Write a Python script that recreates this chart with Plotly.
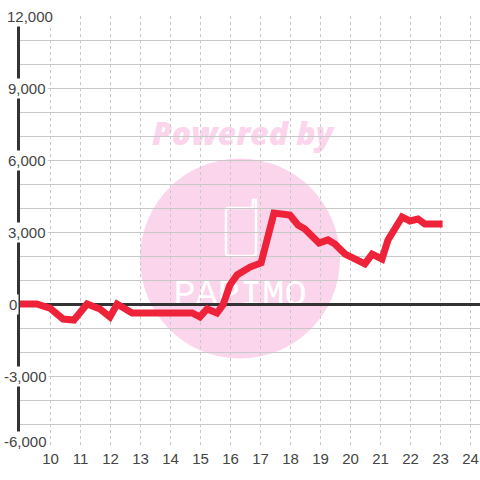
import plotly.graph_objects as go

hours = [8.9, 9.54, 9.98, 10.42, 10.78, 11.22, 11.65, 11.98, 12.22, 12.72, 14.72, 14.98, 15.22, 15.55, 15.75,
         15.98, 16.22, 16.32, 16.65, 17.02, 17.22, 17.45, 17.98, 18.25, 18.48, 18.75, 18.95, 19.25, 19.48, 19.82,
         20.05, 20.48, 20.72, 21.05, 21.25, 21.72, 21.98, 22.25, 22.48, 23.07]
values = [0, 0, -170, -625, -667, 0, -208, -540, 0, -375, -375, -540, -208, -375, -40,
          790, 1210, 1290, 1540, 1710, 2790, 3790, 3710, 3290, 3125, 2750, 2540, 2670, 2500, 2080,
          1920, 1670, 2080, 1875, 2670, 3625, 3460, 3540, 3330, 3330]

x_ticks = list(range(10, 25))
y_grid = list(range(-6000, 12001, 1000))
y_labels = ["12,000", "9,000", "6,000", "3,000", "0", "-3,000", "-6,000"]
y_label_values = [12000, 9000, 6000, 3000, 0, -3000, -6000]
y_label_left_px = [5, 6, 6, 6, 7, 2, 2]
y_label_shift = [0, 0, 0, 0, 0, 0, 7]

W, H = 480, 480
L, R, T, B = 20, 0, 16, 32
PW, PH = W - L - R, H - T - B
def px(x): return (x - L) / PW
def py(y): return 1 - (y - T) / PH

PINK = "#fbd5ec"
INK = "#444444"
DARK = "#333333"
GRID = "#c8c8c8"

fig = go.Figure(go.Scatter(x=hours, y=values, mode="lines", cliponaxis=False,
                           line=dict(color="#ee2238", width=7), hoverinfo="skip"))

shapes = [
    dict(type="circle", xref="paper", yref="paper", layer="below",
         x0=px(140), x1=px(340), y0=py(358.5), y1=py(158.5), fillcolor=PINK, line_width=0),
    dict(type="path", xref="paper", yref="paper", layer="below", line=dict(color="white", width=2.5),
         path=f"M {px(252)} {py(208)} L {px(229)} {py(208)} Q {px(226)} {py(208)} {px(226)} {py(211)} "
              f"L {px(226)} {py(253)} Q {px(226)} {py(256)} {px(229)} {py(256)} L {px(253)} {py(256)} "
              f"Q {px(256)} {py(256)} {px(256)} {py(253)} L {px(256)} {py(200)} L {px(253)} {py(200)} L {px(253)} {py(208)}"),
    dict(type="rect", xref="paper", yref="paper", layer="below", x0=px(140), x1=px(345), y0=py(154), y1=py(114),
         line_width=0, fillcolor="rgba(0,0,0,0)",
         label=dict(text="Powered by", textposition="middle center",
                    font=dict(family="Open Sans", size=32, color=PINK, weight=800, style="italic"))),
    dict(type="rect", xref="paper", yref="paper", layer="below", x0=px(140), x1=px(340), y0=py(309), y1=py(269),
         line_width=0, fillcolor="rgba(0,0,0,0)",
         label=dict(text="PAPIMO", textposition="middle center",
                    font=dict(family="Liberation Mono", size=37, color="white"))),
]

annotations = [
    dict(text=t, x=px(left), y=v, xref="paper", yref="y", xanchor="left", yanchor="middle",
         yshift=s, showarrow=False, bgcolor="white", borderpad=1,
         font=dict(family="Liberation Sans", size=15, color=INK))
    for t, v, left, s in zip(y_labels, y_label_values, y_label_left_px, y_label_shift)
]

fig.update_layout(
    width=W, height=H, autosize=False, showlegend=False,
    margin=dict(l=L, r=R, t=T, b=B, pad=0),
    paper_bgcolor="white", plot_bgcolor="white",
    shapes=shapes, annotations=annotations,
    xaxis=dict(range=[8.983, 24.317], tickmode="array", tickvals=x_ticks, ticks="",
               showgrid=True, gridcolor=GRID, gridwidth=1, griddash="3px,3px",
               zeroline=False, showline=False,
               tickfont=dict(family="Liberation Sans", size=15, color=INK)),
    yaxis=dict(range=[-6000, 12000], tickmode="array", tickvals=y_grid, showticklabels=False, ticks="",
               showgrid=True, gridcolor=GRID, gridwidth=1,
               zeroline=True, zerolinecolor=DARK, zerolinewidth=3,
               showline=True, linecolor=DARK, linewidth=3, layer="below traces"),
)
fig.write_html("out.html", config={"displayModeBar": False},
               post_script="document.body.style.margin='0';document.body.style.overflow='hidden';")
